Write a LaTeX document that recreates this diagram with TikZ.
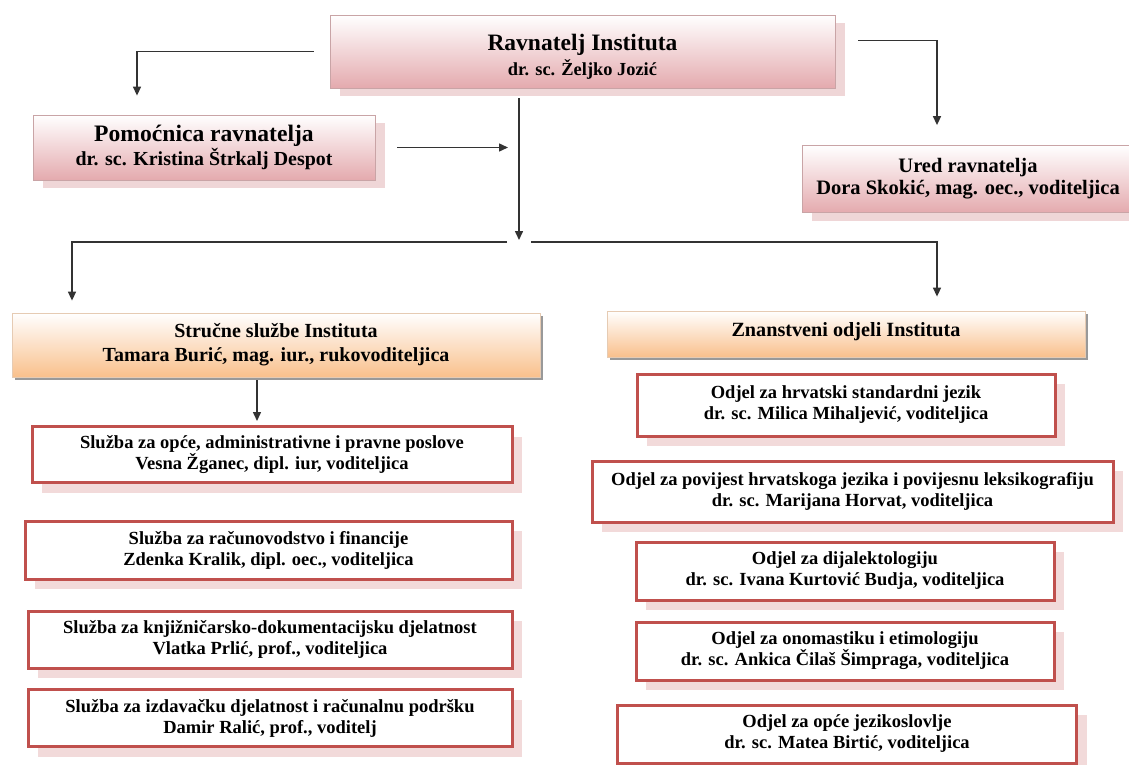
\documentclass[tikz,border=0pt]{standalone}
\usepackage{fontspec}
\setmainfont{Liberation Serif}
\usetikzlibrary{arrows.meta,shadows}
\definecolor{pinkbot}{HTML}{E4AAAE}
\definecolor{pinkshadow}{HTML}{EFD6D7}
\definecolor{pinkborder}{HTML}{C9A4A6}
\definecolor{orbot}{HTML}{F9C08C}
\definecolor{orborder}{HTML}{E6CBB3}
\definecolor{redb}{HTML}{C0504D}
\definecolor{redshadow}{HTML}{F2DADA}
\begin{document}
\begin{tikzpicture}[x=1pt,y=-1pt,
  every node/.style={align=center, inner sep=0pt},
  pinkbox/.style={draw=pinkborder, line width=0.8pt, top color=white, bottom color=pinkbot,
    drop shadow={shadow xshift=10pt, shadow yshift=-8pt, fill=pinkshadow, opacity=1}},
  orbox/.style={draw=orborder, line width=0.8pt, top color=white, bottom color=orbot,
    drop shadow={shadow xshift=3pt, shadow yshift=-3pt, fill=black!40, opacity=1}},
  redbox/.style={draw=redb, line width=3pt, fill=white,
    drop shadow={shadow xshift=10pt, shadow yshift=-10pt, fill=redshadow, opacity=1},
    font=\bfseries\fontsize{18.5}{21}\selectfont},
  conn/.style={line width=1.5pt, draw=black!80, -{Triangle[length=9pt,width=8pt]}},
  plain/.style={line width=1.5pt, draw=black!70}
]
\useasboundingbox (0,0) rectangle (1129,765);

% top level
\node[pinkbox, minimum width=505pt, minimum height=73pt, font=\bfseries\fontsize{18.4}{25}\selectfont] (rav) at (582.5,51.5)
  {\rule{0pt}{27pt}{\fontsize{23.5}{25}\selectfont Ravnatelj Instituta}\\dr. sc. Željko Jozić};
\node[pinkbox, minimum width=342pt, minimum height=65pt, font=\bfseries\fontsize{19.9}{24}\selectfont] (pom) at (204,147.5)
  {{\fontsize{23.6}{24}\selectfont Pomoćnica ravnatelja}\\dr. sc. Kristina Štrkalj Despot};
\node[pinkbox, minimum width=332pt, minimum height=67pt, font=\bfseries\fontsize{20.5}{22}\selectfont] (ured) at (968,179)
  {Ured ravnatelja\\Dora Skokić, mag. oec., voditeljica};

% second level
\node[orbox, minimum width=528pt, minimum height=64pt, font=\bfseries\fontsize{20}{24}\selectfont] (stru) at (276,345)
  {Stručne službe Instituta\\Tamara Burić, mag. iur., rukovoditeljica};
\node[orbox, minimum width=478pt, minimum height=46pt, font=\bfseries\fontsize{20.2}{24}\selectfont] (zna) at (846,334)
  {\rule[-10pt]{0pt}{10pt}Znanstveni odjeli Instituta};

% left column
\node[redbox, minimum width=480pt, minimum height=56pt] (l1) at (272,454.5)
  {Služba za opće, administrativne i pravne poslove\\Vesna Žganec, dipl. iur, voditeljica};
\node[redbox, minimum width=487pt, minimum height=58pt] (l2) at (268.5,550)
  {Služba za računovodstvo i financije\\Zdenka Kralik, dipl. oec., voditeljica};
\node[redbox, minimum width=484pt, minimum height=57pt] (l3) at (270,639.5)
  {Služba za knjižničarsko-dokumentacijsku djelatnost\\Vlatka Prlić, prof., voditeljica};
\node[redbox, minimum width=484pt, minimum height=57pt] (l4) at (270,718)
  {Služba za izdavačku djelatnost i računalnu podršku\\Damir Ralić, prof., voditelj};

% right column
\node[redbox, minimum width=418pt, minimum height=62pt] (r1) at (846,405)
  {Odjel za hrvatski standardni jezik\\dr. sc. Milica Mihaljević, voditeljica};
\node[redbox, minimum width=521pt, minimum height=61pt] (r2) at (852.5,491.5)
  {Odjel za povijest hrvatskoga jezika i povijesnu leksikografiju\\dr. sc. Marijana Horvat, voditeljica};
\node[redbox, minimum width=418pt, minimum height=58pt] (r3) at (845,571)
  {Odjel za dijalektologiju\\dr. sc. Ivana Kurtović Budja, voditeljica};
\node[redbox, minimum width=418pt, minimum height=58pt] (r4) at (845,651)
  {Odjel za onomastiku i etimologiju\\dr. sc. Ankica Čilaš Šimpraga, voditeljica};
\node[redbox, minimum width=459pt, minimum height=58pt] (r5) at (847,734)
  {Odjel za opće jezikoslovlje\\dr. sc. Matea Birtić, voditeljica};

% connectors
\coordinate (hub) at (519,240);
\coordinate (hl) at (507,242);
\coordinate (hr) at (531,242);
\coordinate (pomend) at (508,147.5);

\draw[conn] ([xshift=-16pt]rav.west) -| ([xshift=-67pt,yshift=19pt]pom.north);
\draw[conn] ([xshift=23pt,yshift=11pt]rav.east) -| ([xshift=-31pt,yshift=20pt]ured.north);
\draw[conn] ([xshift=-63.5pt,yshift=-10pt]rav.south) -- (hub);
\draw[conn] ([xshift=22pt]pom.east) -- (pomend);
\draw[conn] (hl) -| ([xshift=-204pt,yshift=12pt]stru.north);
\draw[conn] (hr) -| ([xshift=91pt,yshift=14pt]zna.north);
\draw[conn] ([xshift=-19pt,yshift=-3pt]stru.south) coordinate (s0) -- ([yshift=4pt]s0 |- l1.north);
\end{tikzpicture}
\end{document}
